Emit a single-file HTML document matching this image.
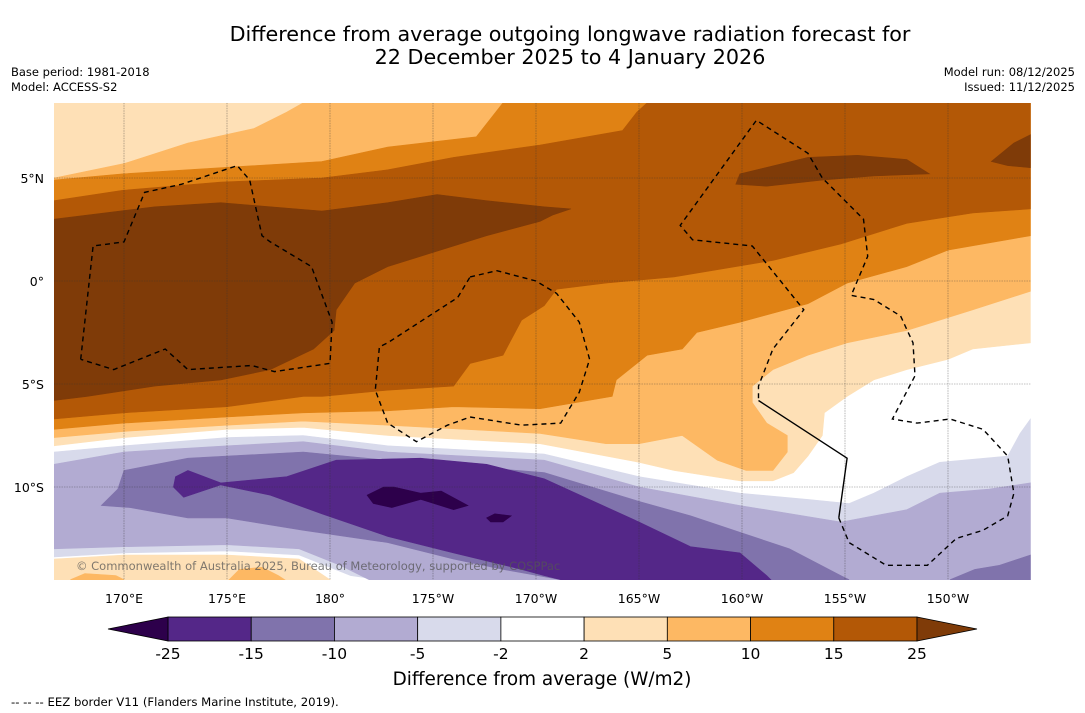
<!DOCTYPE html>
<html><head><meta charset="utf-8"><style>
html,body{margin:0;padding:0;background:#fff;}
svg{display:block;font-family:"DejaVu Sans","Liberation Sans",sans-serif;}
</style></head><body>
<svg id="chart" width="1085" height="713" viewBox="0 0 1085 713" xmlns="http://www.w3.org/2000/svg">
<text x="570" y="41" font-size="20.7" text-anchor="middle">Difference from average outgoing longwave radiation forecast for</text>
<text x="570" y="64" font-size="20.7" text-anchor="middle">22 December 2025 to 4 January 2026</text>
<text x="11" y="76" font-size="11.5">Base period: 1981-2018</text>
<text x="11" y="91" font-size="11.5">Model: ACCESS-S2</text>
<text x="1075" y="76" font-size="11.5" text-anchor="end">Model run: 08/12/2025</text>
<text x="1075" y="91" font-size="11.5" text-anchor="end">Issued: 11/12/2025</text>
<defs><clipPath id="mapclip"><rect x="54" y="103" width="977" height="477"/></clipPath></defs>
<g id="map" clip-path="url(#mapclip)"></g>
<g id="axes"></g>
<g id="cbar"></g>
<text x="542" y="685" font-size="18.4" text-anchor="middle">Difference from average (W/m2)</text>
<text x="11" y="706" font-size="11.7">--  --  -- EEZ border V11 (Flanders Marine Institute, 2019).</text>
</svg>
<script>
// ---- data ----
const cbLevels = [-25,-15,-10,-5,-2,2,5,10,15,25];
const cbColors = ["#542788","#8073ac","#b2abd2","#d8daeb","#ffffff","#fee0b6","#fdb863","#e08214","#b35806"];
const cbUnder = "#2d004b";
const cbOver = "#7f3b08";
const lonTicks = [170,175,180,185,190,195,200,205,210];
const lonLabels = ["170°E","175°E","180°","175°W","170°W","165°W","160°W","155°W","150°W"];
const latTicks = [5,0,-5,-10];
const latLabels = ["5°N","0°","5°S","10°S"];
const lonMin = 166.6, lonMax = 214.0, latMax = 8.65, latMin = -14.5;

const pos2Bottom = [[214,-3.0],[211.2,-3.3],[210,-3.8],[208,-4.3],[206.4,-4.8],[205.1,-5.6],[204,-6.4],[203.9,-7.5],[203.2,-8.5],[202.5,-9.3],[201.5,-9.7],[199.9,-9.7],[196.7,-9.2],[195,-8.8],[190.2,-7.9],[182.8,-7.5],[178.7,-7.1],[175,-7.2],[170,-7.6],[166.6,-8.0]];
const pos5Top = [[166.6,5.0],[170,5.7],[173.1,6.7],[176.3,7.4],[177.9,8.2],[178.7,8.65]];
const pos5Bottom = [[214,-0.5],[211.2,-1.4],[208,-2.4],[205.1,-3.0],[203.2,-3.6],[201.5,-4.3],[200.5,-5.1],[200.5,-5.9],[201.2,-6.9],[202.2,-7.5],[202.2,-8.3],[201.5,-9.2],[200.2,-9.2],[198.8,-8.7],[197.1,-7.5],[195,-7.9],[193.4,-7.9],[190.2,-7.4],[182.8,-7.0],[178.7,-6.8],[175,-7.0],[170,-7.3],[166.6,-7.6]];
const pos10Top = [[166.6,4.9],[169.9,5.2],[174.7,5.5],[179.6,5.8],[182.8,6.5],[187.1,7.0],[188.4,8.65]];
const pos10Bottom = [[214,2.2],[210,1.5],[208,0.7],[205.1,-0.1],[203.2,-1.1],[199.9,-2.0],[197.8,-2.5],[197.1,-3.3],[195.4,-3.6],[193.9,-4.8],[193.7,-5.6],[190.2,-6.2],[186,-6.1],[182.8,-6.3],[178.7,-6.4],[175,-6.6],[170,-6.9],[166.6,-7.2]];
const pos15Top = [[166.6,3.9],[169.9,4.4],[174.7,4.8],[179.6,5.0],[182.8,5.4],[186,6.0],[190.2,6.6],[194.2,7.3],[194.9,8.2],[195.4,8.65]];
const pos15Bottom = [[214,3.5],[211.2,3.3],[208,2.8],[204.8,1.8],[201.5,1.0],[196.7,0.2],[193.4,-0.1],[191,-0.4],[190.4,-1.2],[189.3,-1.9],[188.4,-3.6],[186.8,-4.0],[186,-5.1],[182.8,-5.3],[179.6,-5.6],[178.7,-5.6],[175,-6.1],[170,-6.4],[166.6,-6.7]];
const pos25Main = [[166.6,3.0],[171.5,3.6],[174.7,3.8],[179.6,3.4],[182.8,3.8],[185.2,4.2],[187.6,3.9],[190.4,3.6],[191.7,3.5],[190.8,3.2],[190.2,2.9],[187.6,2.2],[184.4,1.2],[182.8,0.7],[181.2,-0.1],[180.3,-1.4],[180.2,-2.4],[179.2,-3.3],[177.1,-4.3],[174.7,-4.8],[171.5,-5.1],[168.2,-5.6],[166.6,-5.8]];
const pos25BlobA = [[199.7,4.7],[199.9,5.2],[203.2,6.0],[205.6,6.1],[208,5.9],[209.1,5.2],[206.4,5.1],[203.9,4.9],[201.2,4.6]];
const pos25BlobB = [[212.1,5.8],[213.2,6.7],[214,7.1],[214,5.5],[212.9,5.6]];
const pos2SouthWest = [[166.6,-13.5],[170,-13.3],[175,-13.3],[178.5,-13.5],[180,-14.5],[166.6,-14.5]];
const pos5SouthA = [[175.1,-14.5],[175.6,-14.0],[176.7,-13.9],[177.5,-14.3],[177.8,-14.5]];
const pos5SouthB = [[167.4,-14.5],[168.1,-14.2],[169.6,-14.3],[170,-14.5]];

const neg2Top = [[166.6,-8.3],[170,-8.0],[175,-7.6],[178.7,-7.5],[182.8,-8.0],[190.4,-8.4],[195,-9.5],[199.9,-10.3],[203.2,-10.6],[205.2,-10.8],[206.4,-10.3],[208,-9.5],[209.6,-8.8],[212.9,-8.5],[213.5,-7.4],[214,-6.7]];
const neg2Bottom = [[214,-14.5],[182.4,-14.5],[181,-14.3],[178.5,-13.3],[175,-13.1],[170,-13.2],[166.6,-13.4]];
const neg5Top = [[166.6,-8.9],[170,-8.3],[175,-8.0],[178.7,-7.8],[182.8,-8.3],[190.4,-8.7],[195,-10.0],[199.9,-10.9],[204.8,-11.7],[208,-11.1],[209.6,-10.3],[212,-10.1],[214,-9.8]];
const neg5Bottom = [[214,-14.5],[181.9,-14.5],[180.5,-13.8],[178.5,-13.0],[175,-12.8],[170,-12.9],[166.6,-13.0]];
const neg10Main = [[168.9,-10.9],[169.7,-10.1],[170,-9.2],[173.1,-8.6],[175,-8.5],[178.7,-8.3],[182.8,-8.7],[190.4,-9.3],[195,-10.7],[197.5,-11.4],[199.9,-12.2],[202.3,-13.0],[204.8,-14.3],[205.2,-14.5],[191.2,-14.5],[188.4,-14.0],[186,-13.5],[182.8,-12.7],[178.7,-12.1],[175,-11.5],[173.1,-11.5],[170.3,-11.0]];
const neg10Blob = [[210.1,-14.5],[211.3,-14.0],[212.5,-13.8],[214,-13.3],[214,-14.5]];
const neg15Main = [[172.4,-10.0],[172.5,-9.5],[173.1,-9.2],[174.7,-9.8],[177.9,-9.5],[180.3,-8.7],[184.4,-8.6],[187.6,-8.9],[190.4,-9.6],[195,-11.7],[197.5,-12.9],[199.9,-13.2],[201.2,-14.3],[201.4,-14.5],[191.2,-14.5],[190.4,-14.3],[189.3,-14.0],[186,-13.2],[182.8,-12.4],[179.6,-11.3],[177.1,-10.4],[174.7,-9.9],[172.9,-10.5]];
const neg25BlobA = [[181.8,-10.4],[182.6,-10.0],[183.1,-10.0],[184.4,-10.3],[185.4,-10.2],[186.7,-10.9],[186,-11.1],[184.4,-10.6],[183,-11.0],[182.1,-10.8]];
const neg25BlobB = [[187.6,-11.5],[188,-11.3],[188.8,-11.4],[188.4,-11.7],[187.8,-11.7]];

const eezA = [[167.9,-3.8],[168.5,1.7],[170,1.9],[171,4.3],[172.8,4.7],[175.5,5.6],[176.1,4.9],[176.7,2.2],[177.1,1.9],[179.1,0.7],[180.1,-2.0],[180,-4.0],[177.3,-4.4],[176.2,-4.1],[173.1,-4.3],[172,-3.3],[169.5,-4.3],[167.9,-3.8]];
const eezB = [[186.8,0.2],[188.1,0.5],[190,0.0],[191,-0.6],[192.1,-2.0],[192.6,-3.8],[192.1,-5.4],[191.2,-6.9],[189.3,-7.0],[186.8,-6.6],[185.7,-7.0],[184.2,-7.8],[182.8,-6.9],[182.2,-5.3],[182.4,-3.2],[182.8,-3.0],[186.2,-0.8],[186.8,0.2]];
const eezC = [[204.7,-11.5],[205.2,-12.7],[207,-13.8],[209,-13.8],[210.4,-12.5],[211.7,-12.1],[212.9,-11.4],[213.2,-10.3],[212.9,-8.5],[211.7,-7.2],[210.1,-6.7],[208.5,-6.9],[207.3,-6.7],[208.4,-4.6],[208.3,-3.0],[207.7,-1.7],[206.4,-0.9],[205.3,-0.7],[206.1,1.2],[205.9,3.0],[203.9,5.0],[203.2,6.2],[200.7,7.8],[197,2.7],[197.6,2.0],[200.5,1.7],[203,-1.4],[201.5,-3.3],[200.8,-5.1],[200.8,-5.8]];
const eezSolid = [[200.8,-5.8],[205.1,-8.6],[204.7,-11.5]];

// ---- axis functions ----
const X = lon => 124 + (lon - 170) * 20.6;
const Y = lat => 281 - lat * 20.6;
const NS = "http://www.w3.org/2000/svg";
const map = document.getElementById('map');
const axes = document.getElementById('axes');
const cbar = document.getElementById('cbar');

function pts(arr){ return arr.map(p => X(p[0]).toFixed(1)+','+Y(p[1]).toFixed(1)).join(' '); }
function poly(parent, arr, fill, name){
  const el = document.createElementNS(NS,'polygon');
  el.setAttribute('points', pts(arr));
  el.setAttribute('fill', fill);
  el.setAttribute('stroke', fill);
  el.setAttribute('stroke-width', '0.6');
  
  
  parent.appendChild(el);
}
function band(top, bottom){
  let a = [];
  if (top) { a = a.concat(top); } else { a.push([lonMin, latMax]); }
  a.push([lonMax, latMax]);
  return a.concat(bottom);
}
function negBand(top, bottom){ return top.concat(bottom); }

const bg = document.createElementNS(NS,'rect');
bg.setAttribute('x', X(lonMin)); bg.setAttribute('y', Y(latMax));
bg.setAttribute('width', X(lonMax)-X(lonMin)); bg.setAttribute('height', Y(latMin)-Y(latMax));
bg.setAttribute('fill', '#ffffff');


map.appendChild(bg);

poly(map, band(null, pos2Bottom), cbColors[5], 'contour-2-to-5');
poly(map, band(pos5Top, pos5Bottom), cbColors[6], 'contour-5-to-10');
poly(map, band(pos10Top, pos10Bottom), cbColors[7], 'contour-10-to-15');
poly(map, band(pos15Top, pos15Bottom), cbColors[8], 'contour-15-to-25');
poly(map, pos25Main, cbOver, 'contour-above-25');
poly(map, pos25BlobA, cbOver, 'contour-above-25-east');
poly(map, pos25BlobB, cbOver, 'contour-above-25-edge');
poly(map, negBand(neg2Top, neg2Bottom), cbColors[3], 'contour-minus2-to-minus5');
poly(map, negBand(neg5Top, neg5Bottom), cbColors[2], 'contour-minus5-to-minus10');
poly(map, neg10Main, cbColors[1], 'contour-minus10-to-minus15');
poly(map, neg10Blob, cbColors[1], 'contour-minus10-east');
poly(map, neg15Main, cbColors[0], 'contour-minus15-to-minus25');
poly(map, neg25BlobA, cbUnder, 'contour-below-minus25');
poly(map, neg25BlobB, cbUnder, 'contour-below-minus25-small');
poly(map, pos2SouthWest, cbColors[5], 'contour-2-to-5-southwest');
poly(map, pos5SouthA, cbColors[6], 'contour-5-to-10-south-a');
poly(map, pos5SouthB, cbColors[6], 'contour-5-to-10-south-b');

lonTicks.forEach((lon,i) => {
  const l = document.createElementNS(NS,'line');
  l.setAttribute('x1', X(lon)); l.setAttribute('x2', X(lon));
  l.setAttribute('y1', Y(latMax)); l.setAttribute('y2', Y(latMin));
  l.setAttribute('stroke', '#333'); l.setAttribute('stroke-width', '0.6');
  l.setAttribute('stroke-dasharray', '1.5,1'); l.setAttribute('opacity', '0.6');
  
  
  map.appendChild(l);
  const t = document.createElementNS(NS,'text');
  t.setAttribute('x', X(lon)); t.setAttribute('y', 603);
  t.setAttribute('font-size', '12.5'); t.setAttribute('text-anchor', 'middle');
  t.textContent = lonLabels[i];
  
  
  axes.appendChild(t);
});
latTicks.forEach((lat,i) => {
  const l = document.createElementNS(NS,'line');
  l.setAttribute('x1', X(lonMin)); l.setAttribute('x2', X(lonMax));
  l.setAttribute('y1', Y(lat)); l.setAttribute('y2', Y(lat));
  l.setAttribute('stroke', '#333'); l.setAttribute('stroke-width', '0.6');
  l.setAttribute('stroke-dasharray', '1.5,1'); l.setAttribute('opacity', '0.6');
  
  
  map.appendChild(l);
  const t = document.createElementNS(NS,'text');
  t.setAttribute('x', 44); t.setAttribute('y', Y(lat)+5);
  t.setAttribute('font-size', '12.5'); t.setAttribute('text-anchor', 'end');
  t.textContent = latLabels[i];
  
  
  axes.appendChild(t);
});

function line(arr, dash, name){
  const el = document.createElementNS(NS,'polyline');
  el.setAttribute('points', pts(arr));
  el.setAttribute('fill', 'none');
  el.setAttribute('stroke', '#000');
  el.setAttribute('stroke-width', '1.4');
  if (dash) el.setAttribute('stroke-dasharray', '5,4');
  
  
  map.appendChild(el);
}
line(eezA, true, 'eez-border-tuvalu');
line(eezB, true, 'eez-border-phoenix');
line(eezC, true, 'eez-border-line-islands');
line(eezSolid, false, 'eez-border-solid-segment');

const cp = document.createElementNS(NS,'text');
cp.setAttribute('x', 76); cp.setAttribute('y', 570);
cp.setAttribute('font-size', '11.5'); cp.setAttribute('fill', '#555'); cp.setAttribute('opacity', '0.75');
cp.textContent = '© Commonwealth of Australia 2025, Bureau of Meteorology, supported by COSPPac';


map.appendChild(cp);

const cbX0 = 168, cbX1 = 917, cbY = 617, cbH = 24;
const cbW = (cbX1 - cbX0) / cbColors.length;
cbColors.forEach((c,i) => {
  const r = document.createElementNS(NS,'rect');
  r.setAttribute('x', cbX0 + i*cbW); r.setAttribute('y', cbY);
  r.setAttribute('width', cbW); r.setAttribute('height', cbH);
  r.setAttribute('fill', c); r.setAttribute('stroke', '#000'); r.setAttribute('stroke-width', '0.8');
  
  
  cbar.appendChild(r);
});
const under = document.createElementNS(NS,'polygon');
under.setAttribute('points', `${cbX0},${cbY} 108,${cbY+cbH/2} ${cbX0},${cbY+cbH}`);
under.setAttribute('fill', cbUnder); under.setAttribute('stroke', '#000'); under.setAttribute('stroke-width', '0.8');


cbar.appendChild(under);
const over = document.createElementNS(NS,'polygon');
over.setAttribute('points', `${cbX1},${cbY} 977,${cbY+cbH/2} ${cbX1},${cbY+cbH}`);
over.setAttribute('fill', cbOver); over.setAttribute('stroke', '#000'); over.setAttribute('stroke-width', '0.8');


cbar.appendChild(over);
cbLevels.forEach((v,i) => {
  const t = document.createElementNS(NS,'text');
  t.setAttribute('x', cbX0 + i*cbW); t.setAttribute('y', 659);
  t.setAttribute('font-size', '15.5'); t.setAttribute('text-anchor', 'middle');
  t.textContent = String(v);
  
  
  cbar.appendChild(t);
});
</script>
</body></html>
